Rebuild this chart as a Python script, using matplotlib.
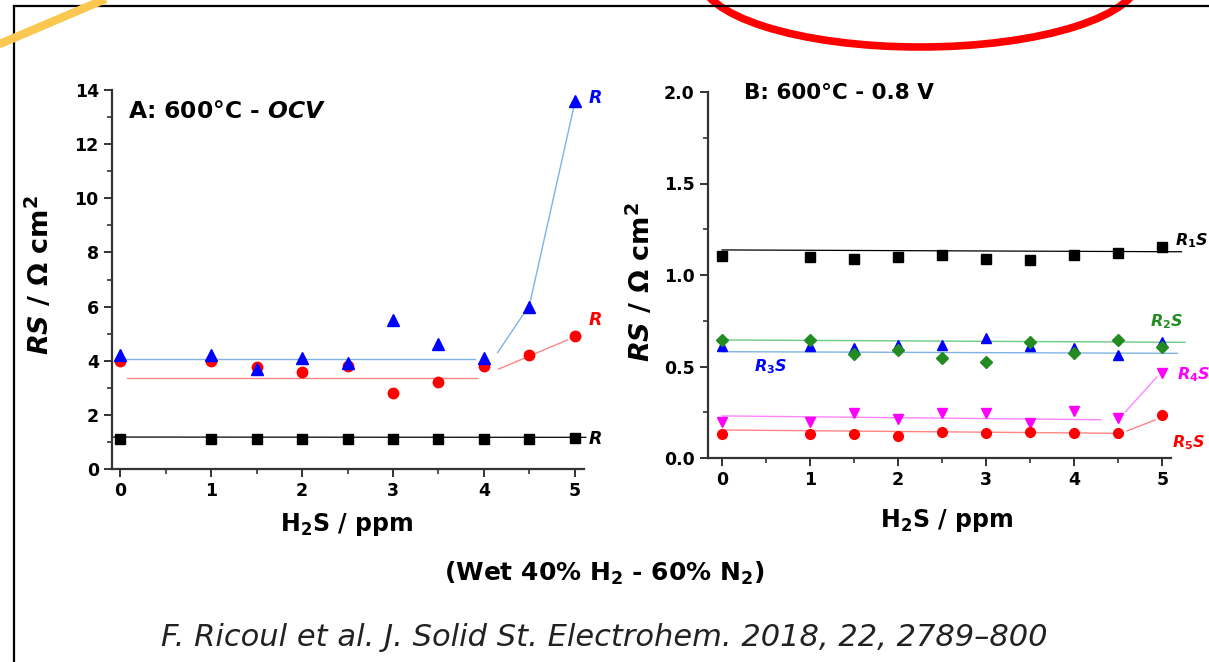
"""
Rs vs H2S concentration, two panels (OCV and 0.8 V), slide-style reproduction.
"""
import matplotlib as mpl
import matplotlib.pyplot as plt
from matplotlib.patches import Ellipse
from matplotlib.ticker import MultipleLocator
from matplotlib.transforms import Bbox, TransformedBbox

# ---- data -------------------------------------------------------------
h2s = [0, 1, 1.5, 2, 2.5, 3, 3.5, 4, 4.5, 5]

# panel A: 600 C - OCV
a_r1 = [1.12, 1.12, 1.10, 1.12, 1.12, 1.10, 1.10, 1.12, 1.12, 1.15]
a_r2 = [4.0, 4.0, 3.75, 3.6, 3.8, 2.8, 3.2, 3.8, 4.2, 4.9]
a_r3 = [4.2, 4.2, 3.7, 4.1, 3.9, 5.5, 4.6, 4.1, 6.0, 13.6]

a_r1_fit_x, a_r1_fit_y = [-0.09, 5.12], [1.18, 1.17]
a_r2_fit_x, a_r2_fit_y = [0.08, 3.92], [3.36, 3.36]
a_r2_tail_x, a_r2_tail_y = [4.16, 4.92], [3.69, 4.77]
a_r3_fit_x, a_r3_fit_y = [0.0, 3.9], [4.06, 4.06]
a_r3_tail_x, a_r3_tail_y = [4.15, 4.5, 5.0], [4.3, 6.05, 13.55]

# panel B: 600 C - 0.8 V
b_r1 = [1.104, 1.10, 1.087, 1.10, 1.111, 1.087, 1.082, 1.107, 1.122, 1.153]
b_r2 = [0.645, 0.645, 0.567, 0.59, 0.548, 0.525, 0.636, 0.575, 0.647, 0.608]
b_r3 = [0.612, 0.612, 0.60, 0.617, 0.617, 0.657, 0.614, 0.60, 0.563, 0.632]
b_r4 = [0.198, 0.198, 0.244, 0.211, 0.244, 0.244, 0.19, 0.257, 0.217, 0.463]
b_r5 = [0.13, 0.13, 0.13, 0.12, 0.144, 0.135, 0.14, 0.138, 0.138, 0.235]

b_r1_fit_x, b_r1_fit_y = [0.0, 5.22], [1.137, 1.127]
b_r2_fit_x, b_r2_fit_y = [0.0, 5.26], [0.645, 0.632]
b_r3_fit_x, b_r3_fit_y = [0.0, 5.17], [0.581, 0.572]
b_r4_fit_x, b_r4_fit_y = [0.0, 4.3], [0.23, 0.209]
b_r4_tail_x, b_r4_tail_y = [4.58, 4.94], [0.251, 0.443]
b_r5_fit_x, b_r5_fit_y = [0.0, 4.5], [0.153, 0.135]
b_r5_tail_x, b_r5_tail_y = [4.6, 4.92], [0.148, 0.208]

x_ticks = [0, 1, 2, 3, 4, 5]

C = {
    "blue": "#0000FF", "blue_l": "#7FB3E6",
    "red": "#FF0000", "red_l": "#FF8585",
    "green": "#228B22", "green_l": "#6CCB85",
    "mag": "#FF00FF", "mag_l": "#FF85FF",
    "black": "#000000",
}

mpl.rcParams.update({
    "font.family": "DejaVu Sans",
    "font.weight": "bold",
    "mathtext.fontset": "custom",
    "mathtext.it": "DejaVu Sans:italic:bold",
    "mathtext.rm": "DejaVu Sans:bold",
    "mathtext.bf": "DejaVu Sans:bold",
    "axes.linewidth": 1.6,
    "axes.edgecolor": "#333333",
})

W, H = 1209, 662
fig = plt.figure(figsize=(W / 100, H / 100), dpi=100)

# slide decorations (frame, yellow stroke, red circle)
bg = fig.add_axes([0, 0, 1, 1], zorder=-1)
bg.set_xlim(0, W)
bg.set_ylim(H, 0)
bg.axis("off")
bg.plot([14, W], [6, 6], color="black", lw=1.6)
bg.plot([14, 14], [6, H], color="black", lw=1.6)
bg.plot([-5, 108], [46, -2], color="#FAC850", lw=6, solid_capstyle="butt")
bg.add_patch(Ellipse((920, -23), 440, 140, fill=False, ec="red", lw=5.5))


def style_axes(ax, xlim, ylim, ymaj, ymin):
    ax.set_xlim(*xlim)
    ax.set_ylim(*ylim)
    ax.spines["top"].set_visible(False)
    ax.spines["right"].set_visible(False)
    ax.set_facecolor("none")
    ax.set_xticks(x_ticks)
    ax.xaxis.set_minor_locator(MultipleLocator(0.5))
    ax.yaxis.set_major_locator(MultipleLocator(ymaj))
    ax.yaxis.set_minor_locator(MultipleLocator(ymin))
    ax.tick_params(which="major", direction="out", length=6, width=1.4,
                   labelsize=12.5, color="#333333")
    ax.tick_params(which="minor", direction="out", length=3.5, width=1.2,
                   color="#333333")


def tag(ax, x, y, s, color, size=12.5, clip=None):
    t = ax.text(x, y, s, color=color, fontsize=size, style="italic",
                weight="bold", ha="left", va="center")
    if clip is not None:
        t.set_clip_box(clip)
        t.set_clip_on(True)
    return t


# ---- panel A --------------------------------------------------------------
axA = fig.add_axes([112 / W, 1 - 469 / H, 472 / W, 379 / H])
style_axes(axA, (-0.09, 5.1), (0, 14), 2, 1)
axA.set_yticklabels([f"{v:g}" for v in axA.get_yticks()])

axA.plot(a_r1_fit_x, a_r1_fit_y, color=C["black"], lw=0.9, clip_on=False)
axA.plot(a_r2_fit_x, a_r2_fit_y, color=C["red_l"], lw=1.0)
axA.plot(a_r2_tail_x, a_r2_tail_y, color=C["red_l"], lw=1.0)
axA.plot(a_r3_fit_x, a_r3_fit_y, color=C["blue_l"], lw=1.0)
axA.plot(a_r3_tail_x, a_r3_tail_y, color=C["blue_l"], lw=1.0)

axA.plot(h2s, a_r1, "s", color=C["black"], ms=6.5, clip_on=False)
axA.plot(h2s, a_r2, "o", color=C["red"], ms=7.5, clip_on=False)
axA.plot(h2s, a_r3, "^", color=C["blue"], ms=8.5, clip_on=False)

clipA = TransformedBbox(Bbox([[0, 0], [601 / W, 1]]), fig.transFigure)
tag(axA, 5.14, 13.7, r"$R_{3}$", C["blue"], clip=clipA)
tag(axA, 5.14, 5.5, r"$R_{2}$", C["red"], clip=clipA)
tag(axA, 5.14, 1.1, r"$R_{1}$", C["black"], clip=clipA)

axA.text(0.034, 0.942, r"A: 600°C - $OCV$", transform=axA.transAxes,
         fontsize=16.8, weight="bold", ha="left", va="center")

axA.set_xlabel("H$_2$S / ppm", fontsize=17, weight="bold")
axA.xaxis.set_label_coords(0.496, -0.112)
axA.set_ylabel(r"$RS$ / Ω cm$^2$", fontsize=19.5, weight="bold")
axA.yaxis.set_label_coords(-0.121, 0.512)

# ---- panel B --------------------------------------------------------------
axB = fig.add_axes([708 / W, 1 - 458 / H, 463 / W, 366 / H])
style_axes(axB, (-0.16, 5.1), (0, 2.0), 0.5, 0.25)
axB.set_yticklabels([f"{v:.1f}" for v in axB.get_yticks()])

axB.plot(b_r1_fit_x, b_r1_fit_y, color=C["black"], lw=0.9, clip_on=False)
axB.plot(b_r2_fit_x, b_r2_fit_y, color=C["green_l"], lw=1.0, clip_on=False)
axB.plot(b_r3_fit_x, b_r3_fit_y, color=C["blue_l"], lw=1.0, clip_on=False)
axB.plot(b_r4_fit_x, b_r4_fit_y, color=C["mag_l"], lw=1.0)
axB.plot(b_r4_tail_x, b_r4_tail_y, color=C["mag_l"], lw=1.0)
axB.plot(b_r5_fit_x, b_r5_fit_y, color=C["red_l"], lw=1.0)
axB.plot(b_r5_tail_x, b_r5_tail_y, color=C["red_l"], lw=1.0)

axB.plot(h2s, b_r1, "s", color=C["black"], ms=6.5, clip_on=False)
axB.plot(h2s, b_r3, "^", color=C["blue"], ms=7.5, clip_on=False)
axB.plot(h2s, b_r2, "D", color=C["green"], ms=6.5, clip_on=False)
axB.plot(h2s, b_r4, "v", color=C["mag"], ms=7.5, clip_on=False)
axB.plot(h2s, b_r5, "o", color=C["red"], ms=7, clip_on=False)

tag(axB, 5.15, 1.19, r"$R_{1}$S", C["black"], size=11.5)
tag(axB, 4.86, 0.745, r"$R_{2}$S", C["green"], size=11.5)
tag(axB, 0.36, 0.50, r"$R_{3}$S", C["blue"], size=11.5)
tag(axB, 5.17, 0.455, r"$R_{4}$S", C["mag"], size=11.5)
tag(axB, 5.11, 0.082, r"$R_{5}$S", C["red"], size=11.5)

axB.text(0.078, 0.997, "B: 600°C - 0.8 V", transform=axB.transAxes,
         fontsize=15.5, weight="bold", ha="left", va="center")

axB.set_xlabel("H$_2$S / ppm", fontsize=17, weight="bold")
axB.xaxis.set_label_coords(0.516, -0.134)
axB.set_ylabel(r"$RS$ / Ω cm$^2$", fontsize=19.5, weight="bold")
axB.yaxis.set_label_coords(-0.112, 0.48)

# ---- captions -------------------------------------------------------------
fig.text(0.5, 1 - 573 / H, "(Wet 40% H$_2$ - 60% N$_2$)", fontsize=18,
         weight="bold", ha="center", va="center")
fig.text(0.5, 1 - 638 / H,
         "F. Ricoul et al. J. Solid St. Electrohem. 2018, 22, 2789–800",
         fontsize=22, weight="normal", style="italic", color="#222222",
         ha="center", va="center")

fig.savefig("out.png", dpi=100)
